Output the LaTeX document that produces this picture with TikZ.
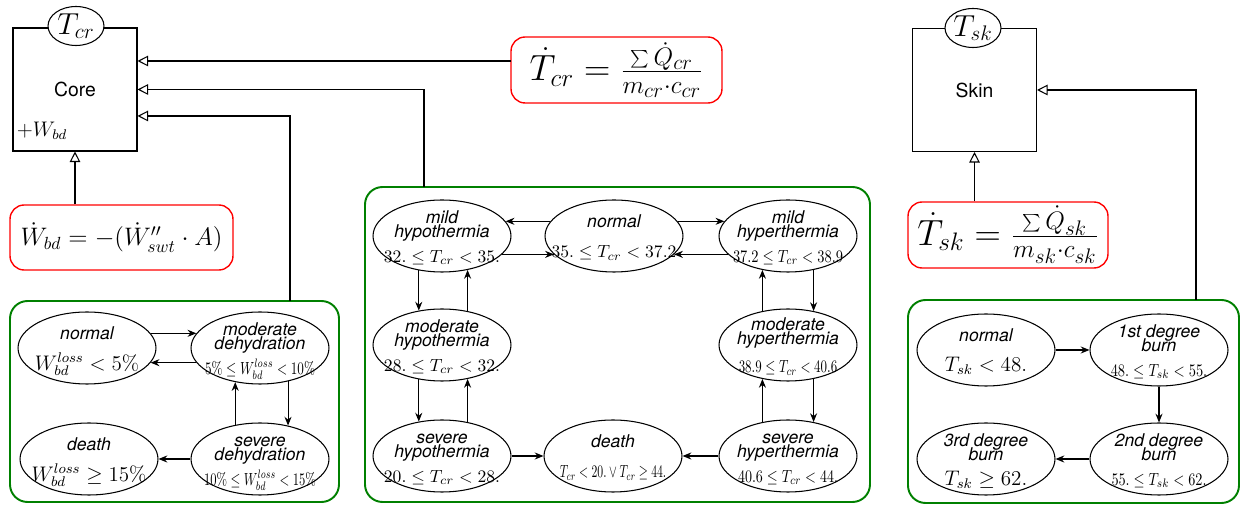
\documentclass[tikz,border=0pt]{standalone}
\usepackage{fontspec}
\setsansfont{TeX Gyre Heros}
\usepackage{graphicx}
\usetikzlibrary{shapes.geometric,arrows.meta}

\newcommand{\schmal}[2]{\resizebox{#1}{\height}{$#2$}}
\newcommand{\zst}[1]{\makebox[0pt]{\smash{\raisebox{-4pt}{\begin{tabular}{@{}c@{}}#1\end{tabular}}}}}

\begin{document}
\begin{tikzpicture}[x=0.02cm,y=-0.02cm,
	kasten/.style={draw,line width=0.6pt,minimum width=2.48cm,minimum height=2.46cm,font=\sffamily\fontsize{11}{13}\selectfont},
	temp/.style={draw,ellipse,fill=white,line width=0.6pt,inner sep=0pt,minimum width=1.12cm,minimum height=0.78cm,font=\LARGE},
	formel/.style={draw=red,line width=0.8pt,rounded corners=8pt,inner sep=0pt},
	gruen/.style={draw=green!50!black,line width=1.1pt,rounded corners=10pt},
	zustand/.style={draw,ellipse,line width=0.6pt,inner sep=0pt,minimum width=2.76cm,minimum height=1.44cm,font=\sffamily\itshape},
	zufluss/.style={-{Triangle[open,length=6pt,width=6pt]},line width=0.6pt},
	wechsel/.style={-{Stealth[length=5pt,width=4pt]},line width=0.6pt}]

	\useasboundingbox (0,0) rectangle (1245,506);

	%Kern
	\node[kasten] (core) at (75,89.5) {Core};
	\node[temp] (tcr) at (76,26) {$T_{cr}$};
	\node[font=\large] (wbd) at (42,131) {$+W_{bd}$};

	%Haut
	\node[kasten] (skin) at (974.5,90) {Skin};
	\node[temp] (tsk) at (973,28) {$T_{sk}$};

	%Formeln
	\node[formel,minimum width=4.22cm,minimum height=1.32cm,font=\huge] (tcrf) at (616.5,70) {$\dot{T}_{cr}=\frac{\sum\dot{Q}_{cr}}{m_{cr}\cdot c_{cr}}$};
	\node[formel,minimum width=4.46cm,minimum height=1.3cm,font=\Large] (wbdf) at (121.5,237.5) {$\dot{W}_{bd}=-(\dot{W}''_{swt}\cdot A)$};
	\node[formel,minimum width=4cm,minimum height=1.32cm,font=\huge] (tskf) at (1008,235) {$\dot{T}_{sk}=\frac{\sum\dot{Q}_{sk}}{m_{sk}\cdot c_{sk}}$};

	%Rahmen
	\draw[gruen] (10,301) rectangle (339,502);
	\draw[gruen] (365,187) rectangle (870,502);
	\draw[gruen] (908,300) rectangle (1239,503);

	%Dehydrierung
	\node[zustand] (normW) at (87,348) {\zst{normal\\[4pt]\large $W_{bd}^{loss}<5\%$}};
	\node[zustand] (dehyM) at (260,348) {\zst{moderate\\[-4pt]dehydration\\[2pt]\schmal{2.2cm}{5\%\le W_{bd}^{loss}<10\%}}};
	\node[zustand] (deathW) at (89,459) {\zst{death\\[4pt]\large $W_{bd}^{loss}\ge 15\%$}};
	\node[zustand] (dehyS) at (260,459) {\zst{severe\\[-4pt]dehydration\\[2pt]\schmal{2.24cm}{10\%\le W_{bd}^{loss}<15\%}}};

	\draw[wechsel] (normW.13) -- (dehyM.167);
	\draw[wechsel] (dehyM.-167) -- (normW.-13);
	\draw[wechsel] (dehyM.-50) -- (dehyS.50);
	\draw[wechsel] (dehyS.126) -- (dehyM.-126);
	\draw[wechsel] (dehyS.west) -- (deathW.east);

	%Kerntemperatur
	\node[zustand] (mildhypo) at (442,236) {\zst{mild\\[-4pt]hypothermia\\[2pt]$32.\le T_{cr}<35.$}};
	\node[zustand] (normT) at (614,236) {\zst{normal\\[5pt]$35.\le T_{cr}<37.2$}};
	\node[zustand] (mildhyper) at (788,236) {\zst{mild\\[-4pt]hyperthermia\\[2pt]\schmal{2.2cm}{37.2\le T_{cr}<38.9}}};
	\node[zustand] (modhypo) at (442,345) {\zst{moderate\\[-4pt]hypothermia\\[2pt]$28.\le T_{cr}<32.$}};
	\node[zustand] (modhyper) at (788,345) {\zst{moderate\\[-4pt]hyperthermia\\[4pt]\schmal{1.97cm}{38.9\le T_{cr}<40.6}}};
	\node[zustand] (sevhypo) at (442,456) {\zst{severe\\[-4pt]hypothermia\\[2pt]$20.\le T_{cr}<28.$}};
	\node[zustand] (deathT) at (613,456) {\zst{death\\[5pt]\schmal{2.13cm}{T_{cr}<20.\vee T_{cr}\ge 44.}}};
	\node[zustand] (sevhyper) at (788,456) {\zst{severe\\[-4pt]hyperthermia\\[2pt]\schmal{2cm}{40.6\le T_{cr}<44.}}};

	\draw[wechsel] (normT.167) -- (mildhypo.13);
	\draw[wechsel] (mildhypo.-17) -- (normT.-163);
	\draw[wechsel] (normT.13) -- (mildhyper.167);
	\draw[wechsel] (mildhyper.-163) -- (normT.-17);
	\draw[wechsel] (mildhypo.-124) -- (modhypo.124);
	\draw[wechsel] (modhypo.53) -- (mildhypo.-53);
	\draw[wechsel] (modhypo.-124) -- (sevhypo.124);
	\draw[wechsel] (sevhypo.53) -- (modhypo.-53);
	\draw[wechsel] (mildhyper.-53) -- (modhyper.53);
	\draw[wechsel] (modhyper.127) -- (mildhyper.-127);
	\draw[wechsel] (modhyper.-53) -- (sevhyper.53);
	\draw[wechsel] (sevhyper.127) -- (modhyper.-127);
	\draw[wechsel] (sevhypo.east) -- (deathT.west);
	\draw[wechsel] (sevhyper.west) -- (deathT.east);

	%Hauttemperatur
	\node[zustand] (normS) at (986,350) {\zst{normal\\[5pt]\large $T_{sk}<48.$}};
	\node[zustand] (burn1) at (1159,350) {\zst{1st degree\\[-4pt]burn\\[2pt]\schmal{1.93cm}{48.\le T_{sk}<55.}}};
	\node[zustand] (burn3) at (986,459) {\zst{3rd degree\\[-4pt]burn\\[2pt]\large $T_{sk}\ge 62.$}};
	\node[zustand] (burn2) at (1159,459) {\zst{2nd degree\\[-4pt]burn\\[2pt]\schmal{1.9cm}{55.\le T_{sk}<62.}}};

	\draw[wechsel] (normS.east) -- (burn1.west);
	\draw[wechsel] (burn1.south) -- (burn2.north);
	\draw[wechsel] (burn2.west) -- (burn3.east);

	%Zufluesse
	\coordinate (e1) at (511,61);
	\coordinate (e2) at (424,187);
	\coordinate (e3) at (290,301);
	\coordinate (e4) at (1196,300);
	\draw[zufluss] (e1) -- (core.east |- e1);
	\draw[zufluss] (e2) |- (core.east);
	\draw[zufluss] (e3) |- ([yshift=-0.53cm]core.east);
	\draw[zufluss] (wbdf.north -| core.south) -- (core.south);
	\draw[zufluss] (e4) |- (skin.east);
	\draw[zufluss] (tskf.north -| skin.south) -- (skin.south);

\end{tikzpicture}
\end{document}
